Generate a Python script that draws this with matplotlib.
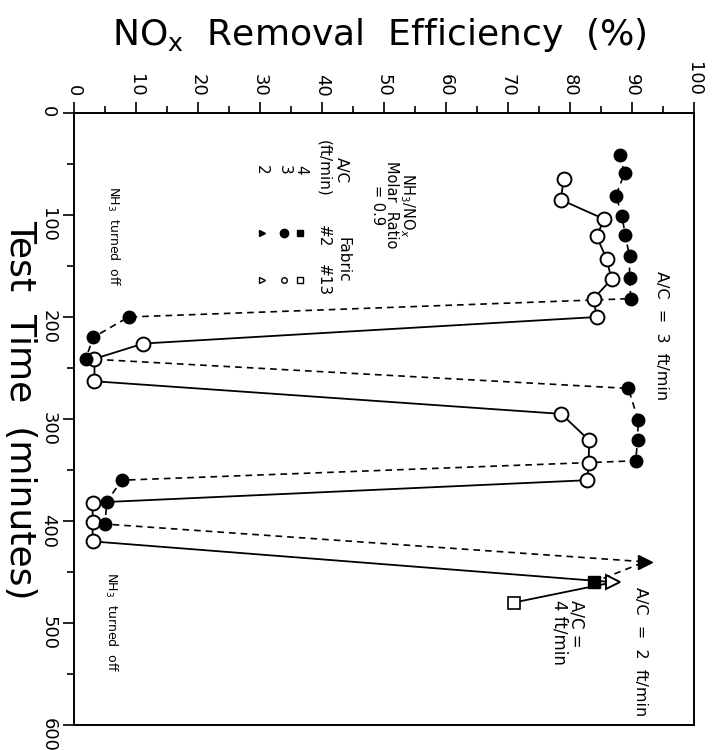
import numpy
import matplotlib
matplotlib.use('Agg')
import matplotlib.pyplot as PyPlot

# A/C = 3 ft/min, fabric #2 (filled circles, dashed)
time2 = [41, 59, 81, 101, 120, 140, 162, 182, 200, 220, 241, 270, 301, 321, 341, 360, 381, 403]
eff2 = [88.0, 88.8, 87.4, 88.4, 88.9, 89.6, 89.6, 89.8, 8.8, 3.1, 1.9, 89.4, 91.0, 90.9, 90.6, 7.7, 5.3, 5.0]
# A/C = 3 ft/min, fabric #13 (open circles, solid)
time13 = [65, 85, 104, 121, 143, 163, 182, 200, 226, 241, 263, 295, 321, 343, 360, 382, 401, 420]
eff13 = [79.0, 78.5, 85.5, 84.3, 85.9, 86.7, 83.8, 84.3, 11.2, 3.3, 3.3, 78.6, 83.1, 83.0, 82.8, 3.0, 3.0, 3.0]
# A/C = 2 ft/min (triangles) and 4 ft/min (squares), fabric #2 then #13
triTime = [440, 460]
triEff = [92.1, 87.0]
sqTime = [460, 480]
sqEff = [83.8, 70.9]

effTicks = list(range(0, 101, 10))
timeTicks = list(range(0, 601, 100))

figure = PyPlot.figure(figsize = (7.13, 7.5), dpi = 100)
axes = figure.add_axes([74 / 713, 25 / 750, 620 / 713, 612 / 750])

# Connecting lines (continue into the A/C 2 and 4 points)
axes.plot(eff2 + [triEff[0], sqEff[0]], time2 + [triTime[0], sqTime[0]],
          color = 'black', linewidth = 1.2, linestyle = (0, (4, 3)))
axes.plot(eff13 + [triEff[1], sqEff[1]], time13 + [triTime[1], sqTime[1]],
          color = 'black', linewidth = 1.3)

axes.plot(eff13, time13, 'o', markersize = 10, markerfacecolor = 'white',
          markeredgecolor = 'black', markeredgewidth = 1.4, linestyle = 'none')
axes.plot(eff2, time2, 'o', markersize = 9, color = 'black', linestyle = 'none')
axes.plot(triEff[0], triTime[0], '>', markersize = 10, color = 'black')
axes.plot(triEff[1], triTime[1], '>', markersize = 10, markerfacecolor = 'white',
          markeredgecolor = 'black', markeredgewidth = 1.4)
axes.plot(sqEff[0], sqTime[0], 's', markersize = 9, color = 'black')
axes.plot(sqEff[1], sqTime[1], 's', markersize = 8, markerfacecolor = 'white',
          markeredgecolor = 'black', markeredgewidth = 1.2)

# Axes set-up (rotated page: efficiency across, time downwards)
axes.set_xlim(0, 100)
axes.set_ylim(600, 0)
axes.xaxis.tick_top()
axes.set_xticks(effTicks)
axes.set_xticks(numpy.arange(5, 100, 10), minor = True)
axes.set_yticks(timeTicks)
axes.set_yticks(numpy.arange(50, 600, 100), minor = True)
axes.tick_params(which = 'major', direction = 'out', length = 8, width = 1.2,
                 labelsize = 13, pad = 4)
axes.tick_params(which = 'minor', direction = 'out', length = 5, width = 1.2)
for label in axes.get_xticklabels() + axes.get_yticklabels():
    label.set_rotation(-90)
for spine in axes.spines.values():
    spine.set_linewidth(1.4)

figure.text(379 / 713, 1 - 45 / 750, r'NO$_\mathregular{x}$  Removal  Efficiency  (%)',
            fontsize = 26, ha = 'center', va = 'baseline')
figure.text(20 / 713, 1 - 410 / 750, 'Test  Time  (minutes)', fontsize = 26,
            rotation = -90, ha = 'center', va = 'center')

# Annotations
axes.text(51.5, 90, 'NH$_3$/NO$_x$\nMolar  Ratio\n= 0.9', rotation = -90,
          fontsize = 10.5, ha = 'center', va = 'center', multialignment = 'center',
          linespacing = 0.95)
axes.text(43.2, 56, 'A/C', rotation = -90, fontsize = 11, ha = 'center', va = 'center')
axes.text(40.3, 54, '(ft/min)', rotation = -90, fontsize = 11, ha = 'center', va = 'center')
axes.text(43.4, 144, 'Fabric', rotation = -90, fontsize = 11, ha = 'center', va = 'center')
axes.text(40.2, 121, '#2', rotation = -90, fontsize = 11, ha = 'center', va = 'center')
axes.text(40.2, 164, '#13', rotation = -90, fontsize = 11, ha = 'center', va = 'center')
for value, eff in zip(['4', '3', '2'], [36.5, 33.9, 30.3]):
    axes.text(eff, 56, value, rotation = -90, fontsize = 11, ha = 'center', va = 'center')
axes.plot(36.5, 117.6, 's', markersize = 5, color = 'black')
axes.plot(33.9, 117.6, 'o', markersize = 6, color = 'black')
axes.plot(30.3, 117.6, '>', markersize = 5, color = 'black')
axes.plot(36.5, 164, 's', markersize = 5, markerfacecolor = 'white', markeredgecolor = 'black')
axes.plot(33.9, 164, 'o', markersize = 4, markerfacecolor = 'white', markeredgecolor = 'black')
axes.plot(30.3, 164, '>', markersize = 5, markerfacecolor = 'white', markeredgecolor = 'black')

axes.text(6.3, 121, 'NH$_3$  turned  off', rotation = -90, fontsize = 9,
          ha = 'center', va = 'center')
axes.text(6.0, 499, 'NH$_3$  turned  off', rotation = -90, fontsize = 9,
          ha = 'center', va = 'center')
axes.text(94.8, 218, 'A/C  =  3  ft/min', rotation = -90, fontsize = 11.5,
          ha = 'center', va = 'center')
axes.text(91.3, 528, 'A/C  =  2  ft/min', rotation = -90, fontsize = 11.5,
          ha = 'center', va = 'center')
axes.text(79.7, 477, 'A/C =\n4 ft/min', rotation = -90, fontsize = 12,
          ha = 'center', va = 'top', multialignment = 'left', linespacing = 0.95)

figure.savefig('out.png', dpi = 100)
